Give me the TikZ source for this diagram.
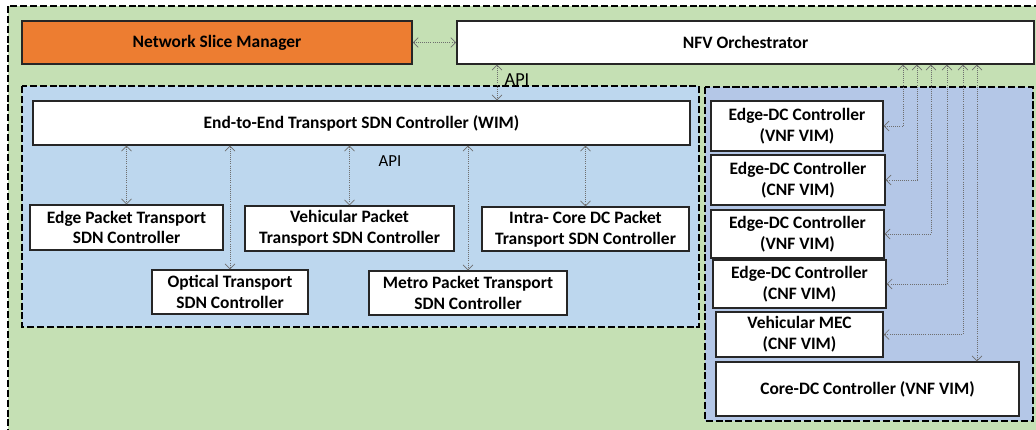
\documentclass[tikz,border=0pt]{standalone}
\usepackage{fontspec}
\setmainfont{Carlito}
\usetikzlibrary{arrows.meta,positioning,calc}

\definecolor{sliceorange}{HTML}{ED7D31}
\definecolor{outergreen}{HTML}{C5E0B4}
\definecolor{wanblue}{HTML}{BDD7EE}
\definecolor{dcblue}{HTML}{B4C7E7}
\definecolor{linkgray}{HTML}{6E6E6E}

\begin{document}
\begin{tikzpicture}[x=0.025cm,y=-0.025cm,
  box/.style={draw=black!85,line width=1pt,fill=white,align=center,inner sep=0pt,
    font=\bfseries\fontsize{12.4}{14.8}\selectfont},
  area/.style={draw=black,line width=1.4pt,dash pattern=on 5pt off 2pt},
  link/.style={{Straight Barb[length=3.5pt,width=7pt]}-{Straight Barb[length=3.5pt,width=7pt]},
    draw=linkgray,line width=0.5pt,densely dotted}]
 \useasboundingbox (0,0) rectangle (1036,429);
 % dashed domains
 \draw[area,fill=outergreen] (8,6) rectangle (1060,450);
 \draw[area,fill=wanblue] (22,86) rectangle (699,327);
 \draw[area,fill=dcblue] (705,87) rectangle (1033,421);

 % top layer
 \node[box,fill=sliceorange,minimum width=9.75cm,minimum height=1.075cm] (nsm) at (217,42.5) {Network Slice Manager};
 \node[box,minimum width=14.425cm,minimum height=1.075cm] (nfvo) at (745.5,42.5) {NFV Orchestrator};
 \draw[link] (nsm) -- (nfvo);

 % transport (WIM) domain
 \node[box,minimum width=16.425cm,minimum height=1.1cm] (wim) at (361.5,123) {End-to-End Transport SDN Controller (WIM)};
 \node[box,minimum width=4.825cm,minimum height=1.125cm] (edgept) at (126.5,227.5) {Edge Packet Transport\\SDN Controller};
 \node[box,minimum width=5.225cm,minimum height=1.125cm] (vehpt) at (349.5,228.5) {Vehicular Packet\\Transport SDN Controller};
 \node[box,minimum width=5.175cm,minimum height=1.1cm] (intrapt) at (585.5,229) {Intra- Core DC Packet\\Transport SDN Controller};
 \node[box,minimum width=3.9cm,minimum height=1.1cm] (optpt) at (230,292) {Optical Transport\\SDN Controller};
 \node[box,minimum width=4.95cm,minimum height=1.1cm] (metropt) at (468,293) {Metro Packet Transport\\SDN Controller};

 \coordinate (apiup) at (497,0);
 \draw[link] (apiup |- nfvo.south) -- (apiup |- wim.north);
 \node[font=\fontsize{13}{13}\selectfont] (apitop) at (517,80) {API};
 \node[font=\fontsize{12}{12}\selectfont] (apiwim) at (390,161) {API};

 \foreach \ctl in {edgept,vehpt,intrapt,optpt,metropt}
  \draw[link] (\ctl.north |- wim.south) -- (\ctl.north);

 % DC (VIM) domain
 \node[box,minimum width=4.3cm,minimum height=1.25cm] (edc1) at (797,126) {Edge-DC Controller\\(VNF VIM)};
 \node[box,minimum width=4.35cm,minimum height=1.25cm] (edc2) at (798,180) {Edge-DC Controller\\(CNF VIM)};
 \node[box,minimum width=4.325cm,minimum height=1.2cm] (edc3) at (797.5,234) {Edge-DC Controller\\(VNF VIM)};
 \node[box,minimum width=4.325cm,minimum height=1.2cm] (edc4) at (799.5,284) {Edge-DC Controller\\(CNF VIM)};
 \node[box,minimum width=4.175cm,minimum height=1.125cm] (vmec) at (799.5,334.5) {Vehicular MEC\\(CNF VIM)};
 \node[box,minimum width=7.575cm,minimum height=1.35cm] (coredc) at (867.5,389) {Core-DC Controller (VNF VIM)};

 \foreach \xx/\vim in {903/edc1,917/edc2,931/edc3,947/edc4,963/vmec}{
  \coordinate (vimup) at (\xx,0);
  \draw[link] (vimup |- nfvo.south) |- (\vim.east);
 }
 \coordinate (coreup) at (977,0);
 \draw[link] (coreup |- nfvo.south) -- (coreup |- coredc.north);
\end{tikzpicture}
\end{document}
